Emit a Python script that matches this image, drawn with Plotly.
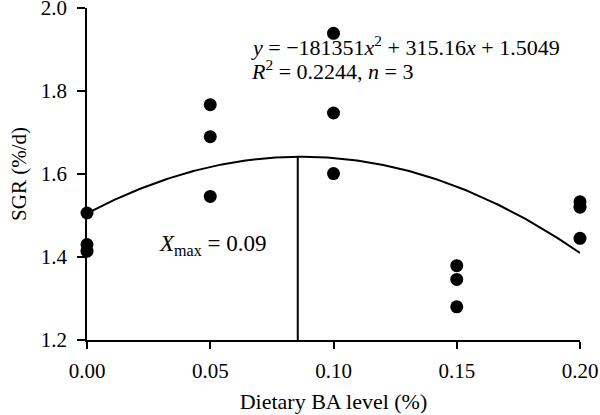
import numpy as np
import plotly.graph_objects as go

# Data
x_levels = [0.00, 0.00, 0.00, 0.05, 0.05, 0.05, 0.10, 0.10, 0.10, 0.15, 0.15, 0.15, 0.20, 0.20, 0.20]
sgr_values = [1.506, 1.430, 1.414, 1.767, 1.690, 1.546, 1.939, 1.747, 1.601, 1.379, 1.346, 1.280, 1.533, 1.520, 1.445]
# quadratic fit coefficients (curve as drawn)
coef_a, coef_b, coef_c = -18.1351, 3.1516, 1.5049
x_max_line = 0.0855
x_tickvals = [0.00, 0.05, 0.10, 0.15, 0.20]
x_ticktext = ["0.00", "0.05", "0.10", "0.15", "0.20"]
y_tickvals = [1.2, 1.4, 1.6, 1.8, 2.0]
y_ticktext = ["1.2", "1.4", "1.6", "1.8", "2.0"]

FONT = "Liberation Serif"

xc = np.linspace(0, 0.2, 200)
yc = coef_a * xc**2 + coef_b * xc + coef_c
y_top = coef_a * x_max_line**2 + coef_b * x_max_line + coef_c

fig = go.Figure()
fig.add_trace(go.Scatter(x=xc, y=yc, mode="lines", line=dict(color="black", width=2),
                         showlegend=False, hoverinfo="skip"))
fig.add_trace(go.Scatter(x=[x_max_line, x_max_line], y=[1.2, y_top], mode="lines",
                         line=dict(color="black", width=2), showlegend=False, hoverinfo="skip"))
fig.add_trace(go.Scatter(x=x_levels, y=sgr_values, mode="markers",
                         marker=dict(color="black", size=13), cliponaxis=False, showlegend=False))

fig.add_annotation(x=0.0658, y=1.909, xref="x", yref="y", xanchor="left", yanchor="middle",
                   text="<i>y</i> = −181351<i>x</i><sup>2</sup> + 315.16<i>x</i> + 1.5049",
                   showarrow=False, font=dict(family=FONT, size=22, color="black"))
fig.add_annotation(x=0.0658, y=1.851, xref="x", yref="y", xanchor="left", yanchor="middle",
                   text="<i>R</i><sup>2</sup> = 0.2244, <i>n</i> = 3",
                   showarrow=False, font=dict(family=FONT, size=22, color="black"))
fig.add_annotation(x=0.0283, y=1.43, xref="x", yref="y", xanchor="left", yanchor="middle",
                   text="<i>X</i><sub>max</sub> = 0.09",
                   showarrow=False, font=dict(family=FONT, size=23, color="black"))

fig.update_layout(
    width=600, height=415,
    margin=dict(l=87, r=20, t=8, b=75),
    paper_bgcolor="white", plot_bgcolor="white",
    font=dict(family=FONT, size=21, color="black"),
    xaxis=dict(range=[0, 0.2], tickvals=x_tickvals, ticktext=x_ticktext, automargin=False,
               showgrid=False, zeroline=False, showline=True, linecolor="black", linewidth=1.5,
               ticks="outside", ticklen=7, tickwidth=1.5, tickcolor="black",
               ticklabelstandoff=4, ticklabeloverflow="allow",
               title=dict(text="Dietary BA level (%)", font=dict(family=FONT, size=22), standoff=12)),
    yaxis=dict(range=[1.2, 2.0], tickvals=y_tickvals, ticktext=y_ticktext, automargin=False,
               showgrid=False, zeroline=False, showline=True, linecolor="black", linewidth=1.5,
               ticks="outside", ticklen=8, tickwidth=1.5, tickcolor="black",
               ticklabelstandoff=6, ticklabeloverflow="allow",
               title=dict(text="SGR (%/d)", font=dict(family=FONT, size=21), standoff=8)),
)

fig.write_html("out.html")
